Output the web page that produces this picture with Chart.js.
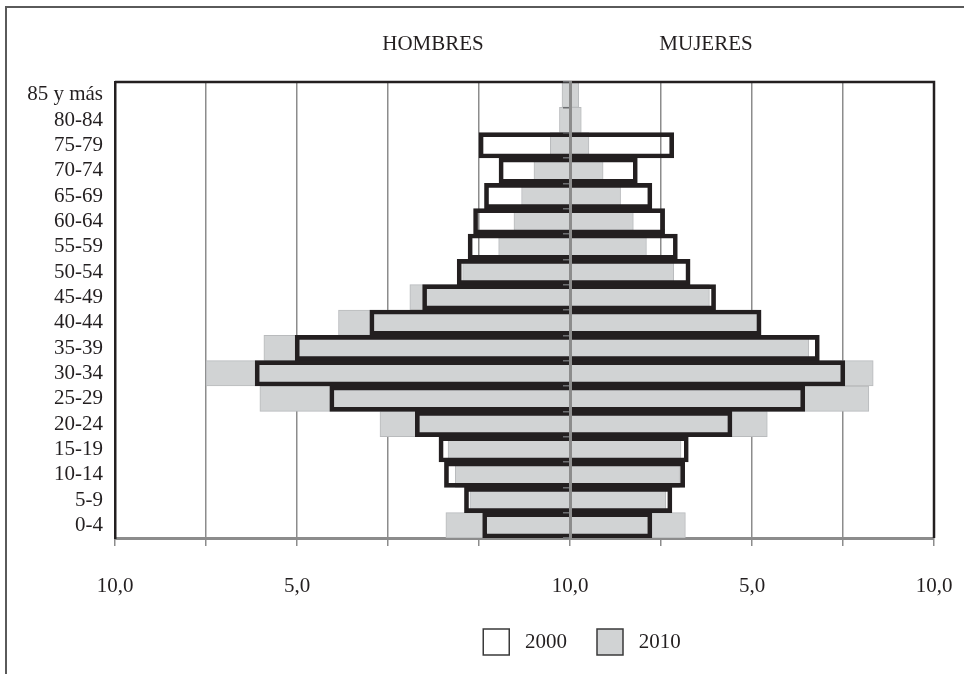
<!DOCTYPE html>
<html>
<head>
<meta charset="utf-8">
<script src="https://cdn.jsdelivr.net/npm/chart.js@4/dist/chart.umd.min.js"></script>
<style>
  html, body { margin: 0; padding: 0; background: #fff; }
  #wrap { position: relative; width: 964px; height: 674px; overflow: hidden; }
  #frame { position: absolute; left: 5px; top: 6px; width: 1000px; height: 700px;
           border-left: 2px solid #5a5a5a; border-top: 2px solid #5a5a5a; }
  .lado { position: absolute; top: 31px; font: 21px "Liberation Serif", "Times New Roman", serif;
          color: #231f20; transform: translateX(-50%); white-space: nowrap; }
  canvas { position: absolute; left: 0; top: 0; }
</style>
</head>
<body>
<div id="wrap">
  <div id="frame"></div>
  <canvas id="piramide" width="964" height="674"></canvas>
  <div class="lado" style="left:433px">HOMBRES</div>
  <div class="lado" style="left:706px">MUJERES</div>
</div>
<script>
// grupos de edad, de arriba hacia abajo
const edades = ['85 y más', '80-84', '75-79', '70-74', '65-69', '60-64', '55-59', '50-54', '45-49',
                '40-44', '35-39', '30-34', '25-29', '20-24', '15-19', '10-14', '5-9', '0-4'];

// porcentajes
const hombres2000 = [null, null, 2.5, 1.95, 2.35, 2.65, 2.8, 3.1, 4.05, 5.5, 7.55, 8.65, 6.6, 4.25, 3.6, 3.45, 2.9, 2.4];
const mujeres2000 = [null, null, 2.85, 1.85, 2.25, 2.6, 2.95, 3.3, 4.0, 5.25, 6.85, 7.55, 6.45, 4.45, 3.25, 3.15, 2.8, 2.25];
const hombres2010 = [0.22, 0.29, 0.54, 0.99, 1.33, 1.54, 1.96, 2.95, 4.4, 6.36, 8.41, 10.0, 8.52, 5.22, 3.35, 3.15, 2.75, 3.41];
const mujeres2010 = [0.24, 0.31, 0.52, 0.91, 1.39, 1.74, 2.1, 2.85, 3.83, 5.14, 6.56, 8.33, 8.21, 5.42, 3.05, 3.01, 2.63, 3.17];

// eje horizontal (tal como aparece en el original)
const valoresEje = [-12.5, -10, -7.5, -5, -2.5, 0, 2.5, 5, 7.5, 10];
const etiquetasEje = ['10,0', '', '5,0', '', '', '10,0', '', '5,0', '', '10,0'];

const fuente = '"Liberation Serif", "Times New Roman", serif';
const tinta = '#231f20';
const gris = '#8c8c8c';

// hombres a la izquierda (negativo), mujeres a la derecha
function pares(h, m) {
  return h.map((v, i) => (v == null ? null : [-v, m[i]]));
}

// borde superior y derecho del area de trazado
const marco = {
  id: 'marco',
  afterDatasetsDraw(chart) {
    const { ctx, chartArea: a } = chart;
    ctx.save();
    ctx.strokeStyle = tinta;
    ctx.lineWidth = 2.5;
    ctx.beginPath();
    ctx.moveTo(a.left, a.top);
    ctx.lineTo(a.right, a.top);
    ctx.lineTo(a.right, a.bottom);
    ctx.stroke();
    ctx.restore();
  }
};

// la leyenda del original esta algo corrida a la derecha
const moverLeyenda = {
  id: 'moverLeyenda',
  afterLayout(chart) {
    chart.legend.left += 110;
    chart.legend.right += 110;
  }
};

new Chart(document.getElementById('piramide'), {
  type: 'bar',
  data: {
    labels: edades,
    datasets: [{
      label: '2000',
      data: pares(hombres2000, mujeres2000),
      backgroundColor: 'rgba(0,0,0,0)',
      borderColor: tinta,
      borderWidth: 4,
      borderSkipped: false,
      categoryPercentage: 1,
      barPercentage: 1,
      grouped: false
    }, {
      label: '2010',
      data: pares(hombres2010, mujeres2010),
      backgroundColor: '#d1d3d4',
      borderColor: '#b9bbbd',
      borderWidth: 1,
      borderSkipped: false,
      categoryPercentage: 1,
      barPercentage: 1,
      grouped: false
    }]
  },
  options: {
    indexAxis: 'y',
    responsive: false,
    animation: false,
    layout: { padding: { left: 10, right: 30, top: 82, bottom: 9 } },
    scales: {
      x: {
        type: 'linear',
        min: -12.5,
        max: 10,
        afterBuildTicks: s => { s.ticks = valoresEje.map(v => ({ value: v })); },
        afterFit: s => { s.height = 61; s.paddingLeft = 0; s.paddingRight = 0; },
        grid: { color: gris, lineWidth: 1.5, tickLength: 8, tickColor: gris, tickWidth: 1.5 },
        border: { color: gris, width: 3 },
        ticks: {
          padding: 28,
          color: tinta,
          font: { family: fuente, size: 21 },
          maxRotation: 0,
          autoSkip: false,
          callback: (v, i) => etiquetasEje[i]
        }
      },
      y: {
        type: 'category',
        offset: true,
        afterFit: s => { s.width = 105; },
        grid: { display: false, drawTicks: false },
        border: { color: tinta, width: 2.5 },
        ticks: { padding: 12, color: tinta, font: { family: fuente, size: 21 }, autoSkip: false }
      },
      centro: {
        type: 'category',
        axis: 'y',
        position: { x: 0 },
        offset: true,
        afterFit: s => { s.width = 0; },
        grid: { offset: true, drawOnChartArea: false, tickLength: 6, color: '#6d6e71', lineWidth: 1.5, z: 1 },
        border: { color: gris, width: 3, z: 1 },
        ticks: { display: false }
      }
    },
    plugins: {
      tooltip: { enabled: false },
      legend: {
        position: 'bottom',
        labels: {
          boxWidth: 26,
          boxHeight: 26,
          padding: 30,
          color: tinta,
          font: { family: fuente, size: 21 },
          generateLabels: chart => chart.data.datasets.map((d, i) => ({
            text: ' ' + d.label,
            fillStyle: i === 0 ? '#ffffff' : d.backgroundColor,
            strokeStyle: '#3a3a3a',
            lineWidth: 1.5,
            fontColor: tinta,
            hidden: false,
            datasetIndex: i
          }))
        }
      }
    }
  },
  plugins: [marco, moverLeyenda]
});
</script>
</body>
</html>
